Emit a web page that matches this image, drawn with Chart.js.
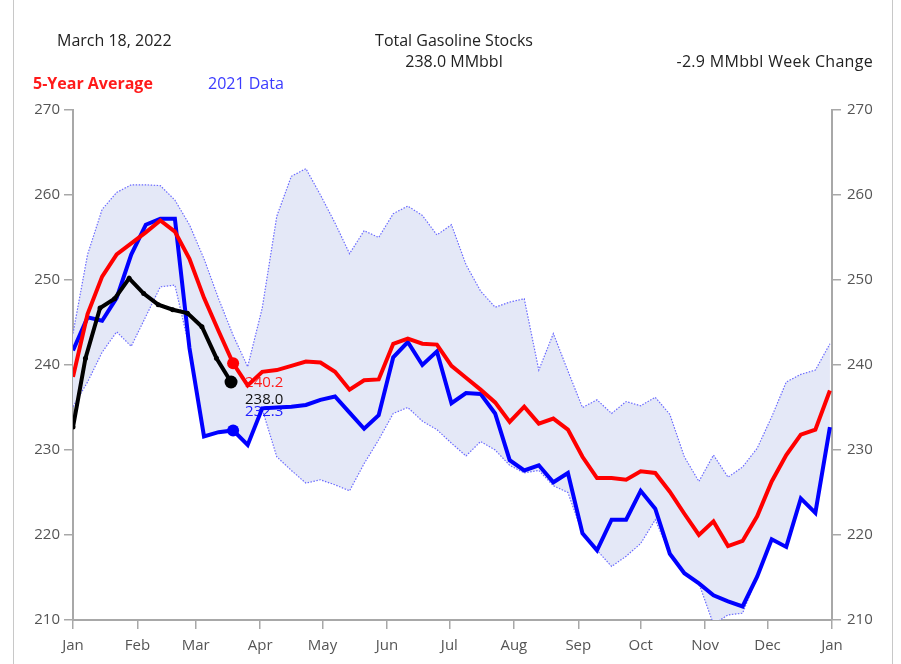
<!DOCTYPE html>
<html>
<head>
<meta charset="utf-8">
<script src="https://cdn.jsdelivr.net/npm/chart.js@4/dist/chart.umd.min.js"></script>
<style>
  html, body { margin: 0; padding: 0; background: #fff; }
  #wrap { position: relative; width: 901px; height: 664px; overflow: hidden; font-family: "Open Sans", "Noto Sans", sans-serif; }
  canvas { position: absolute; left: 0; top: 0; }
  .t { position: absolute; font-size: 16px; line-height: 22px; color: #222; white-space: nowrap; }
  .vline { position: absolute; top: 0; width: 1px; height: 664px; background: #c8c8c8; }
</style>
</head>
<body>
<div id="wrap">
  <canvas id="c" width="901" height="664"></canvas>
  <div class="vline" style="left:13px"></div>
  <div class="vline" style="left:892px"></div>
  <div class="t" style="left:57px; top:29px;">March 18, 2022</div>
  <div class="t" style="left:354px; width:200px; text-align:center; top:29px;">Total Gasoline Stocks</div>
  <div class="t" style="left:354px; width:200px; text-align:center; top:50px;">238.0 MMbbl</div>
  <div class="t" style="right:28px; top:50px; letter-spacing:0.3px;">-2.9 MMbbl Week Change</div>
  <div class="t" style="left:33px; top:72px; color:#ff1a1a; font-weight:bold;">5-Year Average</div>
  <div class="t" style="left:208px; top:72px; color:#3b3bff;">2021 Data</div>
</div>
<script>
// ---- data (day-of-year x values, MMbbl y values) ----
const weekDays = [0,7,14,21,28,35,42,49,56,63,70,77,84,91,98,105,112,119,126,133,140,147,154,161,168,175,182,189,196,203,210,217,224,231,238,245,252,259,266,273,280,287,294,301,308,315,322,329,336,343,350,357,364];
const avg5 = [238.6,246.0,250.4,253.0,254.3,255.6,257.0,255.7,252.5,247.9,244.0,240.2,237.6,239.2,239.4,239.9,240.4,240.3,239.2,237.1,238.2,238.3,242.5,243.1,242.5,242.4,239.9,238.5,237.1,235.6,233.3,235.1,233.1,233.7,232.4,229.2,226.7,226.7,226.5,227.5,227.3,225.1,222.5,220.0,221.6,218.7,219.3,222.2,226.3,229.4,231.8,232.4,237.0];
const data2021 = [241.7,245.6,245.2,247.9,253.0,256.5,257.2,257.2,242.0,231.6,232.1,232.3,230.6,234.9,235.0,235.1,235.3,235.9,236.3,234.4,232.5,234.1,240.9,242.7,240.0,241.6,235.5,236.7,236.6,234.3,228.8,227.6,228.2,226.2,227.3,220.2,218.2,221.8,221.8,225.2,223.1,217.8,215.5,214.3,212.9,212.2,211.6,215.1,219.5,218.6,224.3,222.6,232.7];
const rangeMax = [243.7,253.0,258.3,260.3,261.2,261.2,261.1,259.4,256.5,252.5,247.8,243.5,239.8,246.7,257.5,262.2,263.1,260.0,256.7,253.1,255.8,255.0,257.8,258.7,257.6,255.3,256.5,251.8,248.7,246.8,247.4,247.8,239.4,243.7,239.3,235.0,235.9,234.3,235.7,235.2,236.2,234.2,229.2,226.3,229.4,226.8,228.0,230.2,233.9,238.0,238.9,239.4,242.5];
const rangeMin = [235.1,238.0,241.5,243.9,242.2,245.7,249.2,249.4,242.0,231.6,232.1,232.3,230.6,234.8,229.2,227.6,226.1,226.5,225.9,225.2,228.4,231.2,234.3,235.0,233.4,232.4,230.8,229.3,231.0,230.0,228.2,227.3,227.6,225.8,225.0,220.2,218.2,216.3,217.5,219.0,221.8,217.8,215.5,214.3,209.5,210.6,210.8,215.1,219.5,218.6,224.3,222.6,232.7];
const days2022 = [0,6,13,20,27,34,41,48,55,62,69,76];
const data2022 = [232.7,240.8,246.7,247.8,250.2,248.4,247.1,246.5,246.1,244.5,240.8,238.0];
const monthTicks = [0,31,59,90,120,151,181,212,243,273,304,334,365];
const monthLabels = ['Jan','Feb','Mar','Apr','May','Jun','Jul','Aug','Sep','Oct','Nov','Dec','Jan'];
const yTicks = [210,220,230,240,250,260,270];
const markIndex2021 = 11;   // week of Mar 19 in the 2021 / average series

const pts = (xs, ys) => xs.map((x, i) => ({ x: x, y: ys[i] }));

Chart.defaults.font.family = '"Open Sans", "Noto Sans", sans-serif';
Chart.defaults.font.size = 15;
Chart.defaults.color = '#555';

const valueLabels = {
  id: 'valueLabels',
  beforeDatasetDraw(chart, args) {
    if (args.index !== 3) return;
    const ctx = chart.ctx;
    const xs = chart.scales.x, ys = chart.scales.y;
    const rx = xs.getPixelForValue(weekDays[markIndex2021]);
    const ry = ys.getPixelForValue(avg5[markIndex2021]);
    const by = ys.getPixelForValue(data2021[markIndex2021]);
    const kx = xs.getPixelForValue(days2022[days2022.length - 1]);
    const ky = ys.getPixelForValue(data2022[data2022.length - 1]);
    ctx.save();
    ctx.font = '15px "Open Sans", "Noto Sans", sans-serif';
    ctx.textBaseline = 'middle';
    ctx.textAlign = 'left';
    ctx.fillStyle = '#ff1a1a';
    ctx.fillText(avg5[markIndex2021].toFixed(1), rx + 12, ry + 19);
    ctx.fillStyle = '#111';
    ctx.fillText(data2022[data2022.length - 1].toFixed(1), kx + 14, ky + 18);
    ctx.fillStyle = '#2222ff';
    ctx.fillText((232.3).toFixed(1), rx + 12, by - 19);
    ctx.restore();
  }
};

const axisCommon = {
  grid: { drawOnChartArea: false, drawTicks: true, tickLength: 9, color: '#a8a8a8', lineWidth: 1.5 },
  border: { display: true, color: '#a8a8a8', width: 2 },
};

new Chart(document.getElementById('c'), {
  type: 'line',
  data: {
    datasets: [
      { label: 'max', data: pts(weekDays, rangeMax), borderColor: '#6b6bff', borderWidth: 1.2, borderDash: [1.5, 1.5],
        pointRadius: 0, fill: '+1', backgroundColor: 'rgba(228,232,247,1)', order: 4, tension: 0 },
      { label: 'min', data: pts(weekDays, rangeMin), borderColor: '#6b6bff', borderWidth: 1.2, borderDash: [1.5, 1.5],
        pointRadius: 0, fill: false, order: 3, tension: 0 },
      { label: '5-Year Average', data: pts(weekDays, avg5), borderColor: '#ff0000', borderWidth: 4, fill: false, order: 1,
        pointRadius: weekDays.map((d, i) => i === markIndex2021 ? 6 : 0), pointBackgroundColor: '#ff0000', pointBorderWidth: 0, tension: 0 },
      { label: '2021 Data', data: pts(weekDays, data2021), borderColor: '#0000ff', borderWidth: 4, fill: false, order: 2,
        pointRadius: weekDays.map((d, i) => i === markIndex2021 ? 6 : 0), pointBackgroundColor: '#0000ff', pointBorderWidth: 0, tension: 0 },
      { label: '2022', data: pts(days2022, data2022), borderColor: '#000', borderWidth: 4, fill: false, order: 0,
        pointRadius: days2022.map((d, i) => i === days2022.length - 1 ? 6.5 : 2.5), pointBackgroundColor: '#000', pointBorderWidth: 0, tension: 0 }
    ]
  },
  options: {
    responsive: false,
    animation: false,
    devicePixelRatio: 1,
    layout: { padding: { top: 110, left: 0, right: 0, bottom: 0 } },
    plugins: { legend: { display: false }, tooltip: { enabled: false }, title: { display: false } },
    scales: {
      x: Object.assign({}, axisCommon, {
        type: 'linear', min: 0, max: 365,
        afterBuildTicks: s => { s.ticks = monthTicks.map(v => ({ value: v })); },
        afterFit: s => { s.height = 44; },
        ticks: { autoSkip: false, maxRotation: 0, padding: 8, color: '#555', callback: (v, i) => monthLabels[i] }
      }),
      y: Object.assign({}, axisCommon, {
        position: 'left', min: 210, max: 270,
        afterBuildTicks: s => { s.ticks = yTicks.map(v => ({ value: v })); },
        afterFit: s => { s.width = 73; },
        ticks: { padding: 4, color: '#555' }
      }),
      y2: Object.assign({}, axisCommon, {
        position: 'right', min: 210, max: 270, display: true,
        afterBuildTicks: s => { s.ticks = yTicks.map(v => ({ value: v })); },
        afterFit: s => { s.width = 69; },
        ticks: { padding: 6, color: '#555' }
      })
    }
  },
  plugins: [valueLabels]
});
</script>
</body>
</html>
